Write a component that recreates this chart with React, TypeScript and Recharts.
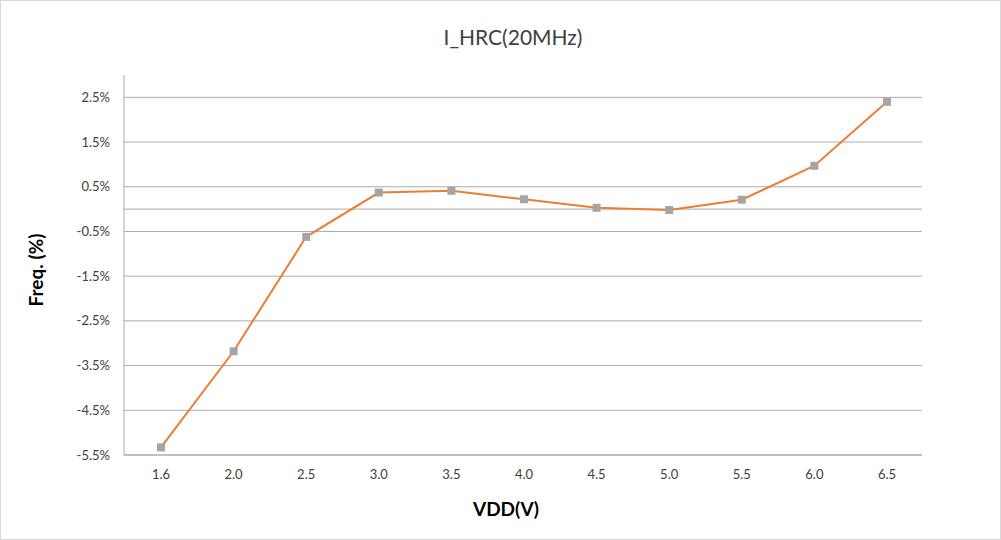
import { LineChart, Line, XAxis, YAxis, CartesianGrid, ReferenceLine } from "recharts";

const vddLabels = ["1.6", "2.0", "2.5", "3.0", "3.5", "4.0", "4.5", "5.0", "5.5", "6.0", "6.5"];
const freqDeviation = [-5.33, -3.18, -0.62, 0.37, 0.41, 0.22, 0.03, -0.02, 0.21, 0.97, 2.4];
const yTicks = [-5.5, -4.5, -3.5, -2.5, -1.5, -0.5, 0.5, 1.5, 2.5];

const FONT = "Lato, 'Open Sans', sans-serif";
const GRID = "#ababab";

const data = vddLabels.map((vdd, i) => ({ vdd, freq: freqDeviation[i] }));

// grey square markers like the Excel original
const SquareDot = (props: any) => {
  const { cx, cy } = props;
  if (cx == null || cy == null) return null;
  return <rect x={cx - 4} y={cy - 4} width={8} height={8} fill="#a5a5a5" />;
};

export default function App() {
  return (
    <div
      style={{
        position: "absolute",
        left: 0,
        top: 0,
        width: 1001,
        height: 540,
        border: "1px solid #d9d9d9",
        boxSizing: "border-box",
        background: "#fff",
      }}
    >
      <LineChart
        width={999}
        height={538}
        data={data}
        margin={{ top: 74, right: 78, left: 0, bottom: 0 }}
        style={{ fontFamily: FONT }}
      >
        <text x={512} y={39} textAnchor="middle" dominantBaseline="middle" fontSize={21} fill="#404040" fontFamily={FONT}>
          I_HRC(20MHz)
        </text>
        <CartesianGrid vertical={false} horizontalValues={yTicks} stroke={GRID} strokeWidth={1} />
        <ReferenceLine y={0} stroke={GRID} strokeWidth={1} />
        <XAxis
          dataKey="vdd"
          type="category"
          height={84}
          padding={{ left: 37, right: 35 }}
          tickLine={false}
          tickSize={0}
          tickMargin={15}
          axisLine={{ stroke: GRID }}
          tick={{ fontSize: 13, fill: "#404040", fontFamily: FONT }}
          label={{
            content: ({ viewBox }: any) => (
              <text
                x={viewBox.x + viewBox.width / 2 - 17}
                y={510}
                textAnchor="middle"
                dominantBaseline="middle"
                fontSize={19}
                fontWeight="bold"
                fill="#000"
                fontFamily={FONT}
              >
                VDD(V)
              </text>
            ),
          }}
        />
        <YAxis
          type="number"
          width={123}
          domain={[-5.5, 3.0]}
          ticks={yTicks}
          interval={0}
          tickLine={false}
          tickSize={0}
          tickMargin={14}
          axisLine={{ stroke: GRID }}
          tickFormatter={(v: number) => `${v.toFixed(1)}%`}
          tick={{ fontSize: 13, fill: "#404040", fontFamily: FONT }}
          label={{
            content: ({ viewBox }: any) => {
              const cx = 37;
              const cy = viewBox.y + viewBox.height / 2 + 5;
              return (
                <text
                  x={cx}
                  y={cy}
                  transform={`rotate(-90, ${cx}, ${cy})`}
                  textAnchor="middle"
                  dominantBaseline="middle"
                  fontSize={19}
                  fontWeight="bold"
                  fill="#000"
                  fontFamily={FONT}
                >
                  Freq. (%)
                </text>
              );
            },
          }}
        />
        <Line
          type="linear"
          dataKey="freq"
          stroke="#ed7d31"
          strokeWidth={2}
          dot={<SquareDot />}
          activeDot={false}
          isAnimationActive={false}
        />
      </LineChart>
    </div>
  );
}
